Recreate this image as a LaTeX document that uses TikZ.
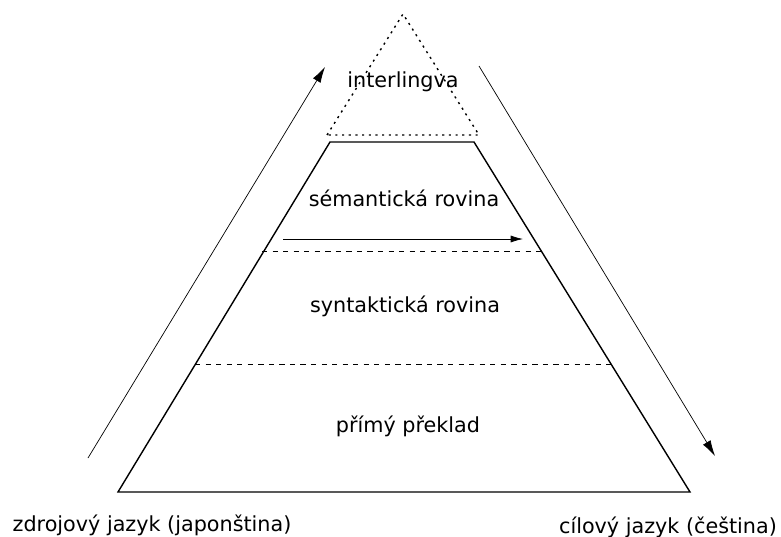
\documentclass[tikz,border=0pt]{standalone}
\usepackage{fontspec}
\setmainfont{DejaVu Sans}
\usetikzlibrary{arrows.meta}
\tikzset{
  level/.style={font=\fontsize{11.8}{14}\selectfont},
  sep/.style={dashed},
  way/.style={-{Latex[length=9pt,width=5pt]},thin},
}
\begin{document}
\begin{tikzpicture}[x=0.02cm,y=-0.02cm]
\useasboundingbox (0,0) rectangle (781,537);
% pyramid
\draw[thick] (118,492) -- (330,142) -- (474,142) -- (690,492) -- cycle;
\draw[thick,dash pattern=on 1.2pt off 2.6pt] (327,135) -- (403,14) -- (479,135) -- cycle;
\draw[sep] (262,251) -- (544,251);
\draw[sep] (195,364) -- (612,364);
% levels
\node[level] (inter) at (403,82) {interlingva};
\node[level] (sem) at (404,198) {sémantická rovina};
\node[level] (syn) at (405,306) {syntaktická rovina};
\node[level] (dir) at (408,426) {přímý překlad};
\node[level] (src) at (152,525) {zdrojový jazyk (japonština)};
\node[level] (tgt) at (668,527) {cílový jazyk (čeština)};
% arrows
\coordinate (s0) at (88,458);
\coordinate (s1) at (325,67);
\coordinate (t0) at (479,66);
\coordinate (t1) at (715,456);
\coordinate (m0) at (283,239);
\coordinate (m1) at (523,239);
\draw[way] (s0) -- (s1);
\draw[way] (t0) -- (t1);
\draw[way,-{Latex[length=7pt,width=4pt]}] (m0) -- (m1);
\end{tikzpicture}
\end{document}
